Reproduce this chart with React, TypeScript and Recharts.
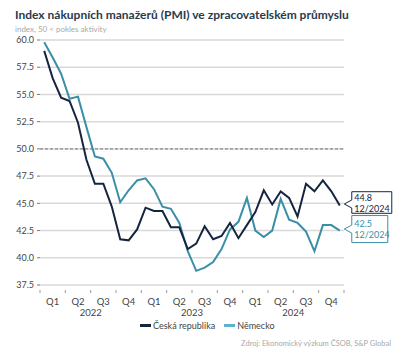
import React from 'react';
import { LineChart, Line, XAxis, YAxis, CartesianGrid, ReferenceLine, Legend } from 'recharts';

const quarterLabels = ['Q1', 'Q2', 'Q3', 'Q4', 'Q1', 'Q2', 'Q3', 'Q4', 'Q1', 'Q2', 'Q3', 'Q4'];
const yearLabels = ['2022', '2023', '2024'];
const seriesNames = ['Česká republika', 'Německo'];
const lastLabel = '12/2024';

const czValues = [
  59.0, 56.5, 54.7, 54.4, 52.4, 49.0, 46.8, 46.8, 44.7, 41.7, 41.6, 42.6,
  44.6, 44.3, 44.3, 42.8, 42.8, 40.8, 41.3, 42.9, 41.7, 42.0, 43.2, 41.8,
  43.0, 44.2, 46.2, 44.9, 46.1, 45.5, 43.8, 46.8, 46.1, 47.1, 46.1, 44.8,
];
const deValues = [
  59.8, 58.4, 56.9, 54.6, 54.8, 52.0, 49.3, 49.1, 47.8, 45.1, 46.2, 47.1,
  47.3, 46.3, 44.7, 44.5, 43.2, 40.6, 38.8, 39.1, 39.6, 40.8, 42.6, 43.3,
  45.5, 42.5, 41.9, 42.5, 45.4, 43.5, 43.2, 42.4, 40.6, 43.0, 43.0, 42.5,
];
const yTicks = [37.5, 40, 42.5, 45, 47.5, 50, 52.5, 55, 57.5, 60];
const quarterTicks = quarterLabels.map((_, i) => i * 3 + 1.5);
const boundaryTicks = [0, 3, 6, 9, 12, 15, 18, 21, 24, 27, 30, 33, 36];
const yearTicks = [6, 18, 30];

const CZ_COLOR = '#15253f';
const DE_COLOR = '#3a8fa7';
const DE_LEGEND = '#5cb3cb';
const FONT = 'Lato, "Noto Sans", sans-serif';

const data = czValues.map((v, i) => ({ m: i + 0.5, cz: v, de: deValues[i] }));
const LAST = data.length - 1;

const makeEndTag = (color: string, bw: number, boxTop: number, boxH: number, l1: number, l2: number) =>
  (props: any) => {
    const { cx, cy, index, value } = props;
    if (index !== LAST) return <g key={`d${index}`} />;
    const tipX = cx + 4.5;
    const bx = cx + 12;
    const tipY = cy - 1.5;
    const top = cy + boxTop;
    const bottom = top + boxH;
    const d = `M${tipX},${tipY} L${bx},${tipY - 4} L${bx},${top} L${bx + bw},${top} L${bx + bw},${bottom} L${bx},${bottom} L${bx},${tipY + 4} Z`;
    const v = Array.isArray(value) ? value[1] : value;
    return (
      <g key={`d${index}`}>
        <path d={d} fill="#fff" stroke={color} strokeWidth={1} />
        <text x={bx + 2.5} y={cy + l1} fill={color} fontSize={9} fontFamily={FONT} dominantBaseline="central">
          {Number(v).toFixed(1)}
        </text>
        <text x={bx + 2.5} y={cy + l2} fill={color} fontSize={9} fontFamily={FONT} dominantBaseline="central">
          {lastLabel}
        </text>
      </g>
    );
  };

const BoundaryTick = (props: any) => {
  const { x, y } = props;
  return <line x1={x} x2={x} y1={y} y2={y + 3} stroke="#9a9a9a" strokeWidth={1} />;
};

const LegendContent = () => (
  <div style={{ display: 'flex', alignItems: 'center', fontFamily: FONT, fontSize: 9, color: '#444', whiteSpace: 'nowrap' }}>
    <span style={{ display: 'inline-block', width: 11, height: 3, background: CZ_COLOR, marginRight: 2 }} />
    <span style={{ marginRight: 9 }}>{seriesNames[0]}</span>
    <span style={{ display: 'inline-block', width: 11, height: 3, background: DE_LEGEND, marginRight: 2 }} />
    <span>{seriesNames[1]}</span>
  </div>
);

export default function App() {
  return (
    <div style={{ position: 'absolute', left: 0, top: 0, width: 418, height: 364, background: '#fff', fontFamily: FONT }}>
      <div style={{ position: 'absolute', left: 15, top: 8, fontSize: 12, fontWeight: 700, color: '#2a3a4c', lineHeight: '14px', whiteSpace: 'nowrap' }}>
        Index nákupních manažerů (PMI) ve zpracovatelském průmyslu
      </div>
      <div style={{ position: 'absolute', left: 15, top: 24, fontSize: 8, color: '#a8a8a8', lineHeight: '10px', whiteSpace: 'nowrap' }}>
        index, 50 &lt; pokles aktivity
      </div>
      <LineChart width={418} height={364} data={data} margin={{ top: 40, right: 74, left: 0, bottom: 76 }}>
        <CartesianGrid xAxisId="q" horizontal vertical={false} stroke="#d9d9d9" strokeWidth={1.5} />
        <XAxis xAxisId="q" dataKey="m" type="number" domain={[0, 36]} ticks={quarterTicks}
          tickFormatter={(_v: any, i: number) => quarterLabels[i]} height={1} tickSize={0} tickMargin={12}
          axisLine={false} tickLine={false} interval={0}
          tick={{ fontSize: 9.5, fill: '#444', fontFamily: FONT }} />
        <XAxis xAxisId="b" dataKey="m" type="number" domain={[0, 36]} ticks={boundaryTicks}
          height={1} tickSize={0} tickMargin={5} axisLine={false} tickLine={false} interval={0}
          tick={<BoundaryTick />} />
        <XAxis xAxisId="y" dataKey="m" type="number" domain={[0, 36]} ticks={yearTicks}
          tickFormatter={(_v: any, i: number) => yearLabels[i]} height={1} tickSize={0} tickMargin={22}
          axisLine={false} tickLine={false} interval={0}
          tick={{ fontSize: 9.5, fill: '#444', fontFamily: FONT }} />
        <YAxis domain={[37.5, 60]} ticks={yTicks} width={40} axisLine={false} tickSize={3} tickMargin={3}
          tickLine={{ stroke: '#777' }} interval={0}
          tickFormatter={(v: number) => v.toFixed(1)}
          tick={{ fontSize: 9, fill: '#444', fontFamily: FONT }} />
        <ReferenceLine xAxisId="q" y={50} stroke="#8a8a8a" strokeWidth={1.2} strokeDasharray="3 2" />
        <Line xAxisId="q" type="linear" dataKey="de" name={seriesNames[1]} stroke={DE_COLOR} strokeWidth={2}
          isAnimationActive={false} dot={makeEndTag(DE_COLOR, 36, -15, 27, -6.6, 4.4)} activeDot={false} />
        <Line xAxisId="q" type="linear" dataKey="cz" name={seriesNames[0]} stroke={CZ_COLOR} strokeWidth={2}
          isAnimationActive={false} dot={makeEndTag(CZ_COLOR, 40, -13.8, 21.6, -7.8, 2.8)} activeDot={false} />
        <Legend verticalAlign="middle" align="center" layout="horizontal" content={<LegendContent />}
          wrapperStyle={{ left: 140, top: 320, width: 'auto', height: 'auto' }} />
      </LineChart>
      <div style={{ position: 'absolute', right: 27, top: 339, fontSize: 7.5, color: '#a8a8a8', lineHeight: '10px', whiteSpace: 'nowrap' }}>
        Zdroj: Ekonomický výzkum ČSOB, S&amp;P Global
      </div>
    </div>
  );
}
